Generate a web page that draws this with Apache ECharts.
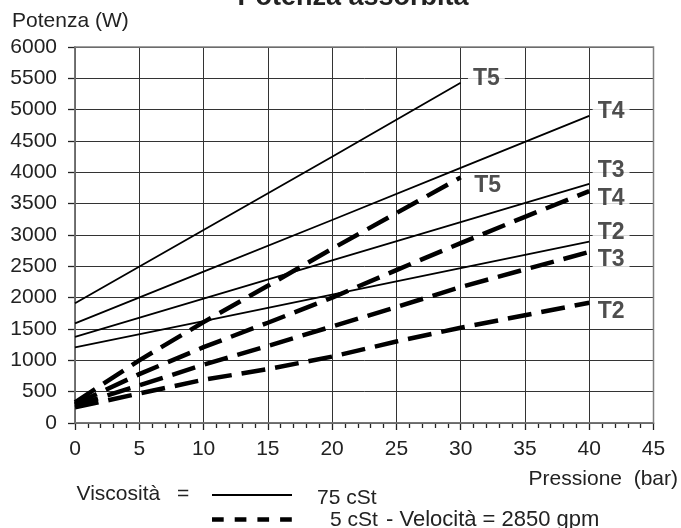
<!DOCTYPE html>
<html>
<head>
<meta charset="utf-8">
<script src="https://cdn.jsdelivr.net/npm/echarts@6/dist/echarts.min.js"></script>
<style>
html,body{margin:0;padding:0;background:#fff;}
#chart{width:681px;height:528px;}
</style>
</head>
<body>
<div id="chart"></div>
<script>
// ---- data ----
const xSolid = [0, 10, 20, 30, 40];
const solidT5 = [1910, 3080, 4250, 5430];
const solidT4 = [1590, 2415, 3240, 4070, 4900];
const solidT3 = [1375, 1985, 2595, 3205, 3815];
const solidT2 = [1205, 1625, 2050, 2470, 2895];

const xDashed = [0, 5, 10, 15, 20, 25, 30, 35, 40];
const dashedT5 = [330, 1000, 1610, 2190, 2780, 3350, 3920];
const dashedT4 = [300, 780, 1210, 1600, 2000, 2440, 2870, 3290, 3700];
const dashedT3 = [280, 600, 930, 1230, 1540, 1850, 2170, 2450, 2730];
const dashedT2 = [250, 470, 690, 860, 1060, 1300, 1520, 1720, 1920];

const labelNames = ['T5', 'T4', 'T3', 'T5', 'T4', 'T2', 'T3', 'T2'];
const labelX = [32, 41.7, 41.7, 32.1, 41.7, 41.7, 41.7, 41.7];
const labelY = [5500, 4970, 4030, 3780, 3585, 3036, 2612, 1776];

const xMin = 0, xMax = 45, xStep = 5;
const yMin = 0, yMax = 6000, yStep = 500;

const titleText = 'Potenza assorbita';
const yName = 'Potenza (W)';
const xName = 'Pressione  (bar)';
const legendLead = 'Viscosità';
const legendEq = '=';
const legendSolid = '75 cSt';
const legendDashedA = '5 cSt';
const legendDashedB = '- Velocità = 2850 gpm';

// ---- build ----
const FONT = 'Liberation Sans, Arial, sans-serif';
function pairs(xs, ys) { return ys.map((v, i) => [xs[i], v]); }

const solidSeries = [solidT5, solidT4, solidT3, solidT2].map((d, i) => ({
  type: 'line', name: 'solid' + i, data: pairs(xSolid, d), symbol: 'none',
  lineStyle: { color: '#000', width: 1.8 }, z: 3, silent: true
}));
const dashedSeries = [dashedT5, dashedT4, dashedT3, dashedT2].map((d, i) => ({
  type: 'line', name: 'dashed' + i, data: pairs(xDashed, d), symbol: 'none',
  lineStyle: { color: '#000', width: 4.5, type: [24, 10], cap: 'butt' }, z: 3, silent: true
}));

const labelSeries = {
  type: 'scatter', symbolSize: 0, z: 5, silent: true,
  data: labelNames.map((n, i) => ({ value: [labelX[i], labelY[i]], name: n })),
  label: {
    show: true, position: 'inside', formatter: p => p.name,
    fontFamily: FONT, fontWeight: 'bold', fontSize: 23, color: '#222',
    backgroundColor: '#fff', padding: [0, 5]
  }
};

const chart = echarts.init(document.getElementById('chart'), null, { renderer: 'canvas' });
chart.setOption({
  animation: false,
  backgroundColor: '#fff',
  grid: { left: 75, right: 27.5, top: 47, bottom: 105, show: true, borderColor: '#808080', borderWidth: 1.5, z: 1 },
  xAxis: {
    type: 'value', min: xMin, max: xMax, interval: xStep,
    axisLine: { show: true, lineStyle: { color: '#222', width: 1.5 } },
    axisTick: { show: true, length: 7, lineStyle: { color: '#222', width: 1.3 } },
    minorTick: { show: true, splitNumber: 5, length: 5, lineStyle: { color: '#222', width: 1.3 } },
    splitLine: { show: true, lineStyle: { color: '#333', width: 1 } },
    axisLabel: { fontFamily: FONT, fontSize: 21, color: '#222', margin: 16, formatter: v => String(v) }
  },
  yAxis: {
    type: 'value', min: yMin, max: yMax, interval: yStep,
    axisLine: { show: true, lineStyle: { color: '#222', width: 1.5 } },
    axisTick: { show: true, length: 7, lineStyle: { color: '#222', width: 1.3 } },
    splitLine: { show: true, lineStyle: { color: '#333', width: 1 } },
    axisLabel: { fontFamily: FONT, fontSize: 21, color: '#222', margin: 18, formatter: v => String(v) }
  },
  graphic: [
    { type: 'text', z: 10, style: { text: titleText, x: 353, y: -2, textAlign: 'center', textVerticalAlign: 'middle', font: 'bold 27px ' + FONT, fill: '#222' } },
    { type: 'text', z: 10, style: { text: yName, x: 12, y: 21, textAlign: 'left', textVerticalAlign: 'middle', font: '21px ' + FONT, fill: '#222' } },
    { type: 'text', z: 10, style: { text: xName, x: 678, y: 479, textAlign: 'right', textVerticalAlign: 'middle', font: '21px ' + FONT, fill: '#222' } },
    { type: 'text', z: 10, style: { text: legendLead, x: 76.5, y: 494, textAlign: 'left', textVerticalAlign: 'middle', font: '21px ' + FONT, fill: '#222' } },
    { type: 'text', z: 10, style: { text: legendEq, x: 177, y: 494, textAlign: 'left', textVerticalAlign: 'middle', font: '21px ' + FONT, fill: '#222' } },
    { type: 'line', z: 10, shape: { x1: 212, y1: 495, x2: 292, y2: 495 }, style: { stroke: '#000', lineWidth: 2.2 } },
    { type: 'line', z: 10, shape: { x1: 212, y1: 519.5, x2: 292, y2: 519.5 }, style: { stroke: '#000', lineWidth: 4.5, lineDash: [11.7, 11] } },
    { type: 'text', z: 10, style: { text: legendSolid, x: 317, y: 498, textAlign: 'left', textVerticalAlign: 'middle', font: '21px ' + FONT, fill: '#222' } },
    { type: 'text', z: 10, style: { text: legendDashedA, x: 330, y: 520, textAlign: 'left', textVerticalAlign: 'middle', font: '21px ' + FONT, fill: '#222' } },
    { type: 'text', z: 10, style: { text: legendDashedB, x: 386, y: 520, textAlign: 'left', textVerticalAlign: 'middle', font: '22px ' + FONT, fill: '#222' } }
  ],
  series: [...solidSeries, ...dashedSeries, labelSeries]
});
</script>
</body>
</html>
